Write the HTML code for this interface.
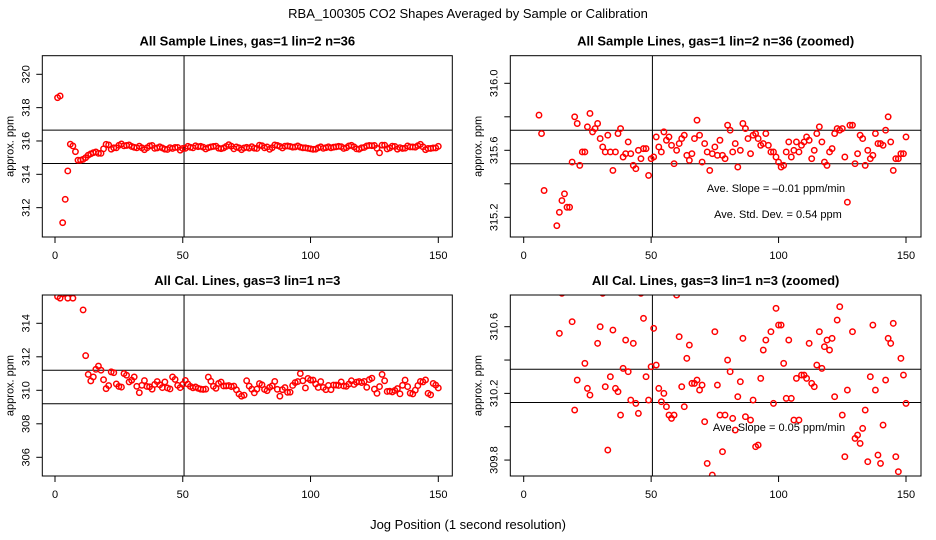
<!DOCTYPE html>
<html><head><meta charset="utf-8"><style>
html,body{margin:0;padding:0;background:#fff;width:936px;height:540px;overflow:hidden}
svg{display:block;font-family:"Liberation Sans",sans-serif}
</style></head><body>
<svg id="c" width="936" height="540" viewBox="0 0 936 540">
<text x="468" y="18" text-anchor="middle" font-size="13">RBA_100305  CO2 Shapes Averaged by Sample or Calibration</text>
<text x="468" y="529" text-anchor="middle" font-size="13">Jog Position (1 second resolution)</text>
</svg>
<script>
const sampleVals=[318.6,318.7,311.1,312.5,314.2,315.81,315.7,315.36,314.85,314.85,314.9,315.0,315.15,315.23,315.30,315.34,315.26,315.26,315.53,315.80,315.76,315.51,315.59,315.59,315.74,315.82,315.71,315.73,315.76,315.67,315.62,315.59,315.69,315.59,315.48,315.59,315.70,315.73,315.56,315.58,315.65,315.58,315.51,315.49,315.60,315.55,315.61,315.61,315.45,315.55,315.56,315.68,315.62,315.59,315.71,315.66,315.68,315.63,315.52,315.60,315.64,315.67,315.69,315.57,315.54,315.58,315.67,315.78,315.69,315.53,315.64,315.59,315.48,315.58,315.62,315.57,315.66,315.57,315.55,315.75,315.72,315.59,315.64,315.50,315.60,315.76,315.73,315.67,315.58,315.69,315.70,315.67,315.63,315.64,315.70,315.63,315.59,315.59,315.56,315.53,315.50,315.51,315.59,315.65,315.56,315.60,315.65,315.59,315.63,315.65,315.68,315.66,315.55,315.60,315.70,315.74,315.65,315.53,315.51,315.59,315.61,315.70,315.73,315.72,315.73,315.56,315.29,315.75,315.75,315.52,315.58,315.69,315.67,315.51,315.60,315.55,315.57,315.70,315.64,315.64,315.63,315.72,315.80,315.65,315.48,315.55,315.55,315.58,315.58,315.68];
const calVals=[315.6,315.5,315.75,315.8,315.5,315.8,315.5,316.0,316.0,316.0,314.8,312.07,310.95,310.56,310.8,311.25,311.45,311.2,310.63,310.10,310.28,311.1,311.05,310.38,310.23,310.19,311.0,310.9,310.50,310.60,310.8,310.24,309.86,310.30,310.58,310.23,310.21,310.07,310.35,310.52,310.33,310.16,310.50,310.14,310.08,310.8,310.65,310.30,310.16,310.36,310.59,310.37,310.23,310.15,310.20,310.12,310.07,310.05,310.07,310.79,310.54,310.24,310.12,310.41,310.49,310.26,310.26,310.28,310.22,310.25,310.03,309.78,309.65,309.71,310.57,310.25,310.07,309.85,310.07,310.40,310.33,310.05,309.98,310.18,310.27,310.53,310.06,309.65,310.04,310.16,309.88,309.89,310.29,310.46,310.52,311.0,310.57,310.14,310.71,310.61,310.61,310.38,310.17,310.52,310.17,310.04,310.29,310.04,310.31,310.31,310.29,310.50,310.26,310.24,310.37,310.57,310.35,310.48,310.52,310.46,310.53,310.18,310.64,310.72,310.07,309.82,310.22,310.95,310.57,309.93,309.95,309.90,309.99,310.10,309.79,310.30,310.61,310.22,309.83,309.78,310.01,310.28,310.53,310.50,310.62,309.82,309.73,310.41,310.31,310.14];
const xTicks=[0,50,100,150];
const p1Ticks=[312,314,316,318,320];
const p2Ticks=[315.2,315.4,315.6,315.8,316.0];
const p2Labels=["315.2","","315.6","","316.0"];
const p3Ticks=[306,308,310,312,314];
const p4Ticks=[309.8,310.0,310.2,310.4,310.6];
const p4Labels=["309.8","","310.2","","310.6"];
const p1Lines=[316.65,314.65];
const p2Lines=[315.72,315.52];
const p3Lines=[311.2,309.2];
const p4Lines=[310.345,310.145];
const vLine=50.5;

const NS="http://www.w3.org/2000/svg";
const svg=document.getElementById('c');
function mk(t,a,p){const e=document.createElementNS(NS,t);for(const k in a)e.setAttribute(k,a[k]);(p||svg).appendChild(e);return e;}

const panels=[
 {name:'sample-full',title:'All Sample Lines, gas=1 lin=2 n=36',L:42.3,R:452.3,T:55.7,B:237,x0:55,x150:438.3,yv:320,yp:74.3,k:16.67,vals:sampleVals,ticks:p1Ticks,labels:p1Ticks.map(String),lines:p1Lines,notes:[]},
 {name:'sample-zoomed',title:'All Sample Lines, gas=1 lin=2 n=36 (zoomed)',L:510.3,R:921,T:55.7,B:237,x0:523.7,x150:906,yv:316,yp:83.3,k:167.5,vals:sampleVals,ticks:p2Ticks,labels:p2Labels,lines:p2Lines,notes:[['Ave. Slope =  \u20130.01  ppm/min',776,192],['Ave. Std. Dev. =  0.54  ppm',778,218]]},
 {name:'cal-full',title:'All Cal. Lines, gas=3 lin=1 n=3',L:42.3,R:452.3,T:295,B:476,x0:55,x150:438.3,yv:314,yp:323.3,k:16.75,vals:calVals,ticks:p3Ticks,labels:p3Ticks.map(String),lines:p3Lines,notes:[]},
 {name:'cal-zoomed',title:'All Cal. Lines, gas=3 lin=1 n=3 (zoomed)',L:510.3,R:921,T:295,B:476,x0:523.7,x150:906,yv:310.6,yp:326.7,k:166.7,vals:calVals,ticks:p4Ticks,labels:p4Labels,lines:p4Lines,notes:[['Ave. Slope =  0.05  ppm/min',779,431]]}
];
panels.forEach((p,i)=>{
 const g=mk('g',{});
 
 
 const xs=v=>p.x0+(v/150)*(p.x150-p.x0);
 const ys=v=>p.yp+(p.yv-v)*p.k;
 const t=mk('text',{x:(p.L+p.R)/2,y:p.T-10,'text-anchor':'middle','font-size':13,'font-weight':'bold'},g);
 t.textContent=p.title;
 
 
 const cid='clip'+i;
 const cp=mk('clipPath',{id:cid},g);mk('rect',{x:p.L,y:p.T,width:p.R-p.L,height:p.B-p.T},cp);
 const pts=mk('g',{'clip-path':'url(#'+cid+')'},g);
 p.lines.forEach(v=>{const l=mk('line',{x1:p.L,x2:p.R,y1:ys(v),y2:ys(v),stroke:'#000','stroke-width':1},pts);
  
  });
 const vl=mk('line',{x1:xs(vLine),x2:xs(vLine),y1:p.T,y2:p.B,stroke:'#000','stroke-width':1},pts);
 
 
 p.vals.forEach((v,j)=>{const c=mk('circle',{cx:xs(j+1),cy:ys(v),r:2.7,fill:'none',stroke:'#f00','stroke-width':1.5},pts);
  
  });
 const box=mk('rect',{x:p.L,y:p.T,width:p.R-p.L,height:p.B-p.T,fill:'none',stroke:'#000','stroke-width':1},g);
 
 
 xTicks.forEach(v=>{const x=xs(v);mk('line',{x1:x,x2:x,y1:p.B,y2:p.B+6,stroke:'#000'},g);
  const tx=mk('text',{x:x,y:p.B+22,'text-anchor':'middle','font-size':11},g);tx.textContent=v;
  
  });
 p.ticks.forEach((v,j)=>{const y=ys(v);mk('line',{x1:p.L-6,x2:p.L,y1:y,y2:y,stroke:'#000'},g);
  if(p.labels[j]){const tx=mk('text',{x:0,y:0,'text-anchor':'middle','font-size':11,transform:`translate(${p.L-13},${y}) rotate(-90)`},g);tx.textContent=p.labels[j];
  
  }});
 const yt=mk('text',{x:0,y:0,'text-anchor':'middle','font-size':11,transform:`translate(${p.L-29},${(p.T+p.B)/2}) rotate(-90)`},g);
 yt.textContent='approx. ppm';
 
 
 p.notes.forEach(n=>{const tx=mk('text',{x:n[1],y:n[2],'text-anchor':'middle','font-size':11},g);tx.textContent=n[0];
  
  });
});
</script>
</body></html>
